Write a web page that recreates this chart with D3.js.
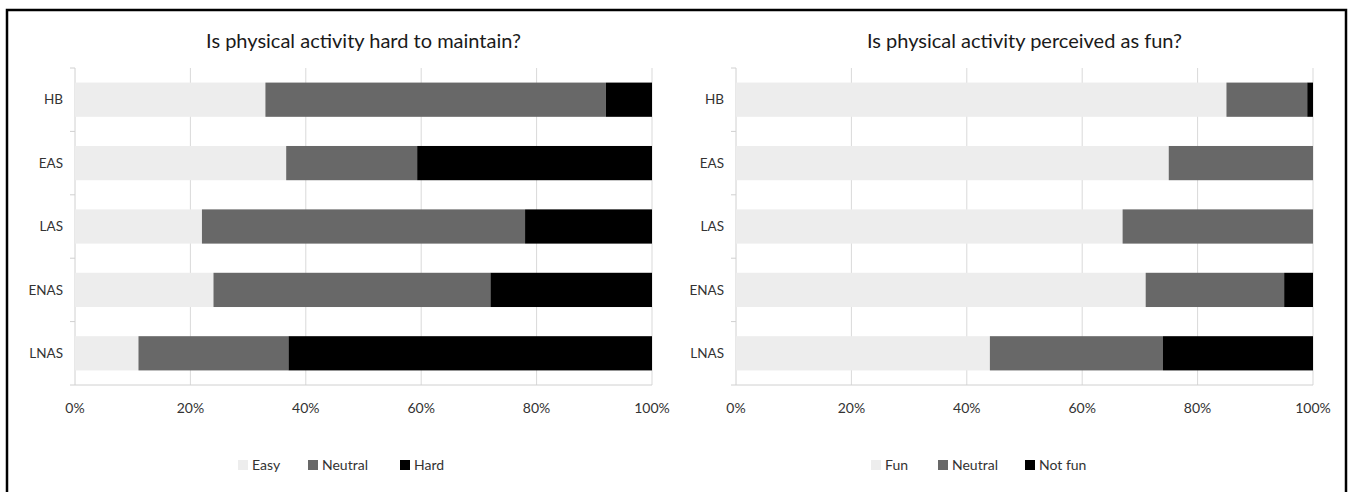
<!doctype html>
<html>
<head>
<meta charset="utf-8">
<style>
  body { margin: 0; background: #fff; }
  svg { display: block; font-family: Lato, "Open Sans", sans-serif; }
  .grid line { stroke: #d9d9d9; }
</style>
<script src="https://d3js.org/d3.v7.min.js"></script>
</head>
<body>
<svg width="1350" height="492"></svg>
<script>
// categories, top to bottom
var categories = ["HB", "EAS", "LAS", "ENAS", "LNAS"];
var xTicks = [0, 20, 40, 60, 80, 100];

// left chart: "hard to maintain" (% of group)
var hardKeys = ["Easy", "Neutral", "Hard"];
var hardEasy = [33, 36.6, 22, 24, 11];
var hardNeutral = [59, 22.7, 56, 48, 26];
var hardHard = [8, 40.7, 22, 28, 63];

// right chart: "perceived as fun" (% of group)
var funKeys = ["Fun", "Neutral", "Not fun"];
var funFun = [85, 75, 67, 71, 44];
var funNeutral = [14, 25, 33, 24, 30];
var funNotFun = [1, 0, 0, 5, 26];

var colors = ["#ededed", "#686868", "#000000"];

var svg = d3.select("svg");

// outer frame (bottom edge runs off the picture)
svg.append("rect")
   .attr("x", 7).attr("y", 10)
   .attr("width", 1339).attr("height", 500)
   .attr("fill", "none").attr("stroke", "#000").attr("stroke-width", 2.5);

function drawChart(opts) {
    var left = opts.left, right = opts.right, top = 68, bottom = 385;

    var rows = categories.map(function(c, i) {
        var r = { cat: c };
        opts.keys.forEach(function(k, j) { r[k] = opts.series[j][i]; });
        return r;
    });

    var x = d3.scaleLinear().domain([0, 100]).range([left, right]);
    var y = d3.scaleBand().domain(categories).range([top, bottom]).paddingInner(0.46).paddingOuter(0.23);
    var yTicks = d3.scaleLinear().domain([0, categories.length]).range([top, bottom]);

    var g = svg.append("g");

    g.append("text")
     .attr("x", (left + right) / 2).attr("y", 48)
     .attr("text-anchor", "middle")
     .attr("font-size", 20).attr("fill", "#1a1a1a")
     .text(opts.title);

    // vertical gridlines
    g.append("g").attr("class", "grid")
     .selectAll("line").data(xTicks.slice(1)).enter().append("line")
     .attr("x1", function(d) { return x(d); }).attr("x2", function(d) { return x(d); })
     .attr("y1", top).attr("y2", bottom);

    // y axis line with small ticks between categories
    g.append("line").attr("x1", left).attr("x2", left).attr("y1", top).attr("y2", bottom)
     .attr("stroke", "#d0d0d0");
    g.append("g").selectAll("line").data(d3.range(categories.length + 1)).enter().append("line")
     .attr("x1", left - 5).attr("x2", left)
     .attr("y1", function(d) { return yTicks(d); }).attr("y2", function(d) { return yTicks(d); })
     .attr("stroke", "#d0d0d0");

    // x axis line
    g.append("line").attr("x1", left).attr("x2", right).attr("y1", bottom).attr("y2", bottom)
     .attr("stroke", "#d0d0d0");

    // bars
    var stack = d3.stack().keys(opts.keys)(rows);
    g.append("g").selectAll("g").data(stack).enter().append("g")
     .attr("fill", function(d, i) { return colors[i]; })
     .selectAll("rect").data(function(d) { return d; }).enter().append("rect")
     .attr("x", function(d) { return x(d[0]); })
     .attr("width", function(d) { return x(d[1]) - x(d[0]); })
     .attr("y", function(d) { return y(d.data.cat); })
     .attr("height", y.bandwidth());

    // category labels
    g.append("g").selectAll("text").data(categories).enter().append("text")
     .attr("x", left - 12)
     .attr("y", function(d) { return y(d) + y.bandwidth() / 2; })
     .attr("dy", "0.35em")
     .attr("text-anchor", "end")
     .attr("font-size", 13.5).attr("fill", "#333")
     .text(function(d) { return d; });

    // x tick labels
    g.append("g").selectAll("text").data(xTicks).enter().append("text")
     .attr("x", function(d) { return x(d); })
     .attr("y", 408).attr("dy", "0.35em")
     .attr("text-anchor", "middle")
     .attr("font-size", 14).attr("fill", "#333")
     .text(function(d) { return d + "%"; });

    // legend
    var lg = g.append("g").selectAll("g").data(opts.keys).enter().append("g")
     .attr("transform", function(d, i) { return "translate(" + opts.legendX[i] + ",465)"; });
    lg.append("rect").attr("x", 0).attr("y", -5).attr("width", 10).attr("height", 10)
     .attr("fill", function(d, i) { return colors[i]; });
    lg.append("text").attr("x", 14).attr("dy", "0.35em")
     .attr("font-size", 14).attr("fill", "#333")
     .text(function(d) { return d; });
}

drawChart({
    title: "Is physical activity hard to maintain?",
    left: 75, right: 652,
    keys: hardKeys,
    series: [hardEasy, hardNeutral, hardHard],
    legendX: [238, 308, 400]
});

drawChart({
    title: "Is physical activity perceived as fun?",
    left: 736, right: 1313,
    keys: funKeys,
    series: [funFun, funNeutral, funNotFun],
    legendX: [871, 938, 1025]
});
</script>
</body>
</html>
